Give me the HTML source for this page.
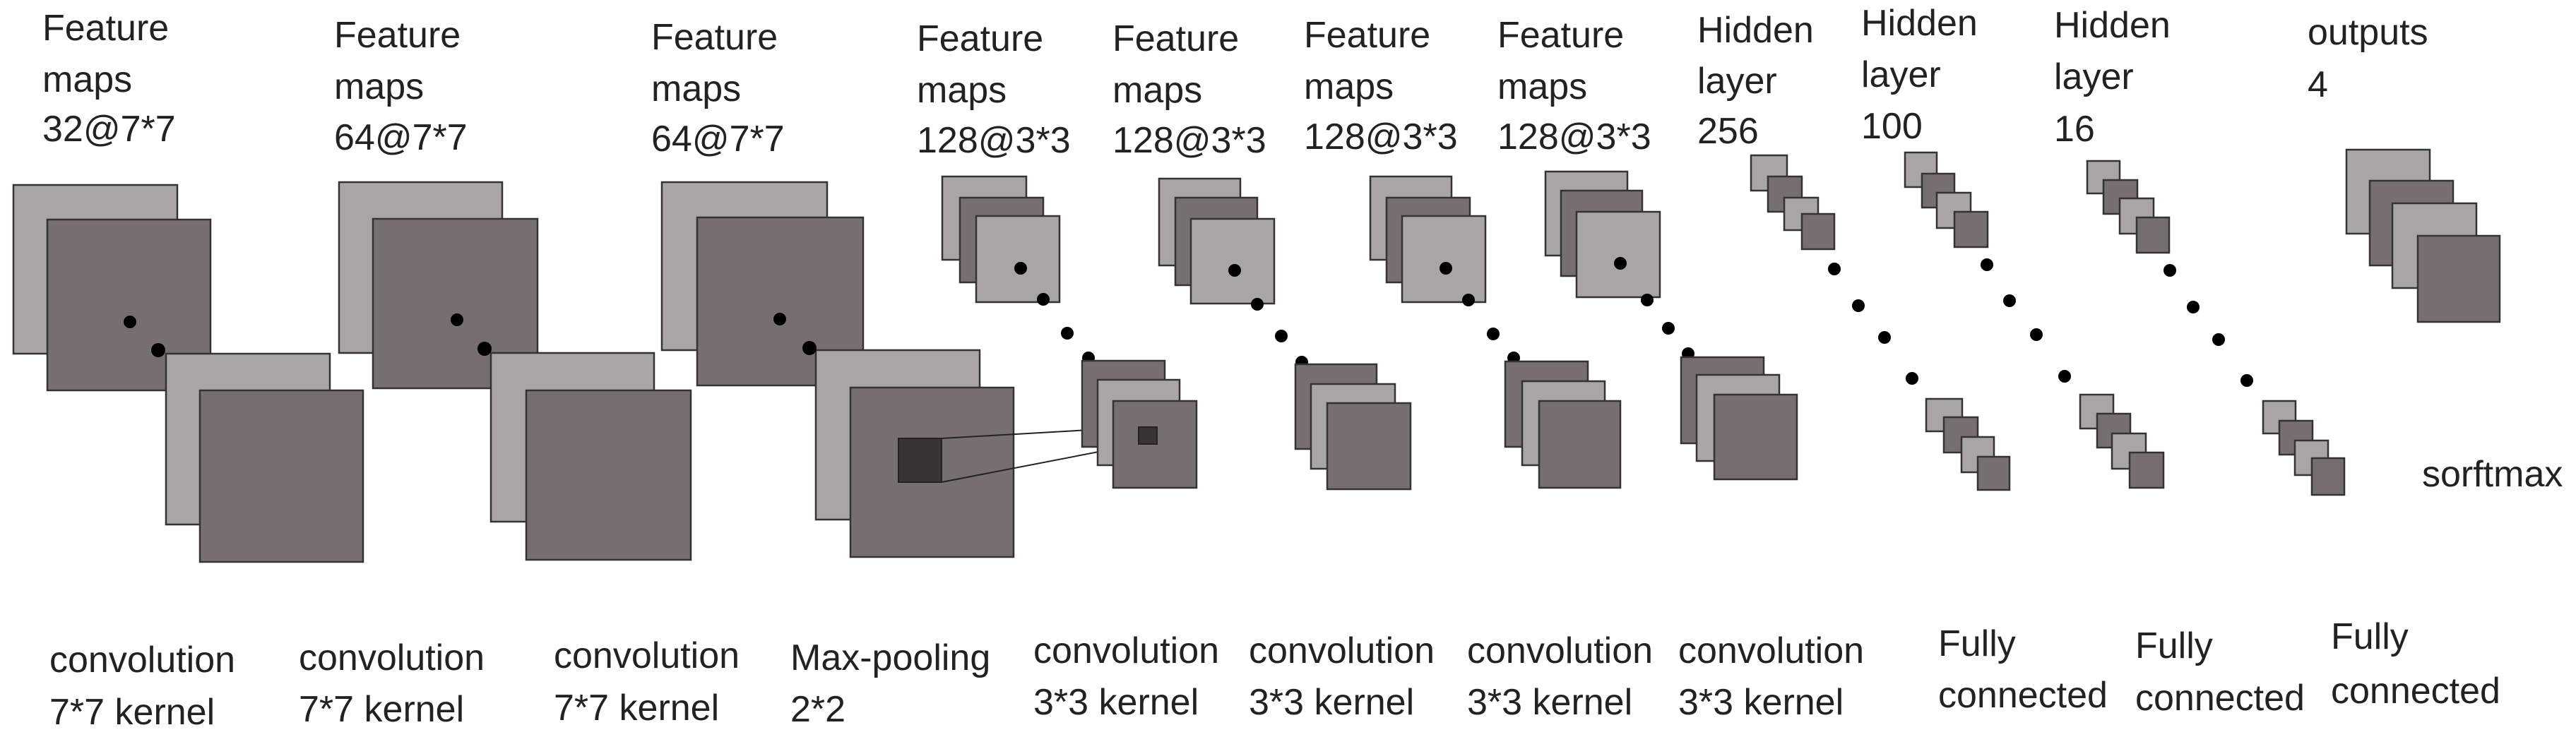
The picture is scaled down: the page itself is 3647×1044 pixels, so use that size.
<!DOCTYPE html>
<html><head><meta charset="utf-8"><style>
html,body{margin:0;padding:0;background:#fff;}
svg{display:block;}
text{font-family:"Liberation Sans",sans-serif;font-size:52px;fill:#222;}
.l{fill:#aaa5a5;stroke:#333;stroke-width:2.5;}
.d{fill:#776f6f;stroke:#333;stroke-width:2.5;}
.k{fill:#3a3333;stroke:#222;stroke-width:2;}
</style></head><body>
<svg width="3647" height="1044" viewBox="0 0 3647 1044" xmlns="http://www.w3.org/2000/svg">
<!-- top labels -->
<text x="60" y="57">Feature</text><text x="60" y="130">maps</text><text x="60" y="200">32@7*7</text>
<text x="473" y="67">Feature</text><text x="473" y="140">maps</text><text x="473" y="212">64@7*7</text>
<text x="922" y="70">Feature</text><text x="922" y="143">maps</text><text x="922" y="214">64@7*7</text>
<text x="1298" y="72">Feature</text><text x="1298" y="145">maps</text><text x="1298" y="216">128@3*3</text>
<text x="1575" y="72">Feature</text><text x="1575" y="145">maps</text><text x="1575" y="216">128@3*3</text>
<text x="1846" y="67">Feature</text><text x="1846" y="140">maps</text><text x="1846" y="211">128@3*3</text>
<text x="2120" y="67">Feature</text><text x="2120" y="140">maps</text><text x="2120" y="211">128@3*3</text>
<text x="2403" y="60">Hidden</text><text x="2403" y="132">layer</text><text x="2403" y="203">256</text>
<text x="2635" y="50">Hidden</text><text x="2635" y="123">layer</text><text x="2635" y="196">100</text>
<text x="2908" y="53">Hidden</text><text x="2908" y="126">layer</text><text x="2908" y="200">16</text>
<text x="3267" y="63">outputs</text><text x="3267" y="137">4</text>
<text x="3429" y="689">sorftmax</text>
<!-- bottom labels -->
<text x="70" y="952">convolution</text><text x="70" y="1026">7*7 kernel</text>
<text x="423" y="949">convolution</text><text x="423" y="1022">7*7 kernel</text>
<text x="784" y="946">convolution</text><text x="784" y="1020">7*7 kernel</text>
<text x="1119" y="949">Max-pooling</text><text x="1119" y="1022">2*2</text>
<text x="1463" y="939">convolution</text><text x="1463" y="1012">3*3 kernel</text>
<text x="1768" y="939">convolution</text><text x="1768" y="1012">3*3 kernel</text>
<text x="2077" y="939">convolution</text><text x="2077" y="1012">3*3 kernel</text>
<text x="2376" y="939">convolution</text><text x="2376" y="1012">3*3 kernel</text>
<text x="2744" y="929">Fully</text><text x="2744" y="1002">connected</text>
<text x="3023" y="932">Fully</text><text x="3023" y="1006">connected</text>
<text x="3300" y="919">Fully</text><text x="3300" y="996">connected</text>

<!-- group 1 -->
<rect class="l" x="19" y="262" width="232" height="239"/>
<rect class="d" x="67" y="311" width="231" height="242"/>
<rect class="l" x="235" y="501" width="232" height="242"/>
<rect class="d" x="283" y="553" width="231" height="243"/>
<circle cx="184" cy="456" r="9"/><circle cx="224" cy="496" r="10"/>
<!-- group 2 -->
<rect class="l" x="480" y="258" width="231" height="242"/>
<rect class="d" x="528" y="310" width="233" height="240"/>
<rect class="l" x="695" y="500" width="231" height="239"/>
<rect class="d" x="745" y="553" width="233" height="240"/>
<circle cx="647" cy="453" r="9"/><circle cx="686" cy="494" r="10"/>
<!-- group 3 -->
<rect class="l" x="937" y="258" width="234" height="238"/>
<rect class="d" x="987" y="308" width="235" height="238"/>
<rect class="l" x="1155" y="496" width="232" height="240"/>
<rect class="d" x="1204" y="549" width="231" height="240"/>
<circle cx="1104" cy="452" r="9"/><circle cx="1146" cy="493" r="10"/>
<rect class="k" x="1272" y="621" width="61" height="62"/>
<line x1="1333" y1="621" x2="1612" y2="605" stroke="#222" stroke-width="2"/>
<line x1="1333" y1="683" x2="1612" y2="629" stroke="#222" stroke-width="2"/>

<!-- group 4 -->
<rect class="l" x="1334" y="250" width="119" height="118"/>
<rect class="d" x="1359" y="280" width="118" height="120"/>
<rect class="l" x="1382" y="306" width="118" height="122"/>
<circle cx="1445" cy="380" r="9"/><circle cx="1477" cy="424" r="9"/><circle cx="1511" cy="472" r="9"/><circle cx="1541" cy="507" r="9"/>
<rect class="d" x="1532" y="511" width="117" height="122"/>
<rect class="l" x="1554" y="538" width="116" height="121"/>
<rect class="d" x="1576" y="568" width="118" height="123"/>
<rect class="k" x="1612" y="605" width="26" height="24"/>
<!-- group 5 -->
<rect class="l" x="1641" y="253" width="115" height="123"/>
<rect class="d" x="1664" y="280" width="116" height="124"/>
<rect class="l" x="1686" y="310" width="118" height="120"/>
<circle cx="1748" cy="383" r="9"/><circle cx="1780" cy="431" r="9"/><circle cx="1814" cy="476" r="9"/><circle cx="1843" cy="513" r="9"/>
<rect class="d" x="1834" y="516" width="115" height="120"/>
<rect class="l" x="1856" y="544" width="119" height="120"/>
<rect class="d" x="1879" y="571" width="118" height="122"/>
<!-- group 6 -->
<rect class="l" x="1940" y="250" width="115" height="118"/>
<rect class="d" x="1963" y="280" width="118" height="120"/>
<rect class="l" x="1985" y="306" width="118" height="122"/>
<circle cx="2047" cy="380" r="9"/><circle cx="2079" cy="425" r="9"/><circle cx="2114" cy="473" r="9"/><circle cx="2143" cy="507" r="9"/>
<rect class="d" x="2131" y="512" width="117" height="121"/>
<rect class="l" x="2155" y="540" width="117" height="119"/>
<rect class="d" x="2179" y="568" width="115" height="123"/>
<!-- group 7 -->
<rect class="l" x="2188" y="243" width="116" height="119"/>
<rect class="d" x="2210" y="270" width="115" height="121"/>
<rect class="l" x="2232" y="300" width="118" height="121"/>
<circle cx="2294" cy="373" r="9"/><circle cx="2332" cy="425" r="9"/><circle cx="2362" cy="465" r="9"/><circle cx="2390" cy="501" r="9"/>
<rect class="d" x="2380" y="506" width="117" height="122"/>
<rect class="l" x="2402" y="531" width="117" height="122"/>
<rect class="d" x="2427" y="559" width="117" height="120"/>

<!-- hidden 256 -->
<rect class="l" x="2479" y="220" width="51" height="50"/>
<rect class="d" x="2503" y="250" width="48" height="50"/>
<rect class="l" x="2526" y="280" width="48" height="46"/>
<rect class="d" x="2551" y="303" width="46" height="50"/>
<circle cx="2597" cy="381" r="9"/><circle cx="2631" cy="433" r="9"/><circle cx="2668" cy="478" r="9"/><circle cx="2707" cy="536" r="9"/>
<rect class="l" x="2727" y="565" width="51" height="46"/>
<rect class="d" x="2752" y="591" width="48" height="50"/>
<rect class="l" x="2777" y="619" width="46" height="50"/>
<rect class="d" x="2800" y="647" width="45" height="47"/>
<!-- hidden 100 -->
<rect class="l" x="2697" y="216" width="45" height="49"/>
<rect class="d" x="2721" y="246" width="46" height="48"/>
<rect class="l" x="2742" y="273" width="48" height="50"/>
<rect class="d" x="2767" y="300" width="47" height="50"/>
<circle cx="2813" cy="375" r="9"/><circle cx="2845" cy="426" r="9"/><circle cx="2883" cy="474" r="9"/><circle cx="2923" cy="533" r="9"/>
<rect class="l" x="2945" y="559" width="47" height="48"/>
<rect class="d" x="2969" y="586" width="47" height="48"/>
<rect class="l" x="2990" y="614" width="48" height="50"/>
<rect class="d" x="3015" y="641" width="48" height="50"/>
<!-- hidden 16 -->
<rect class="l" x="2955" y="228" width="46" height="46"/>
<rect class="d" x="2978" y="255" width="48" height="48"/>
<rect class="l" x="3001" y="281" width="48" height="50"/>
<rect class="d" x="3025" y="308" width="46" height="50"/>
<circle cx="3072" cy="383" r="9"/><circle cx="3105" cy="435" r="9"/><circle cx="3141" cy="481" r="9"/><circle cx="3181" cy="539" r="9"/>
<rect class="l" x="3204" y="568" width="46" height="46"/>
<rect class="d" x="3227" y="596" width="47" height="48"/>
<rect class="l" x="3249" y="624" width="47" height="49"/>
<rect class="d" x="3273" y="649" width="46" height="52"/>
<!-- outputs -->
<rect class="l" x="3322" y="212" width="118" height="119"/>
<rect class="d" x="3355" y="256" width="118" height="120"/>
<rect class="l" x="3387" y="288" width="119" height="120"/>
<rect class="d" x="3423" y="334" width="116" height="122"/>
</svg>
</body></html>
